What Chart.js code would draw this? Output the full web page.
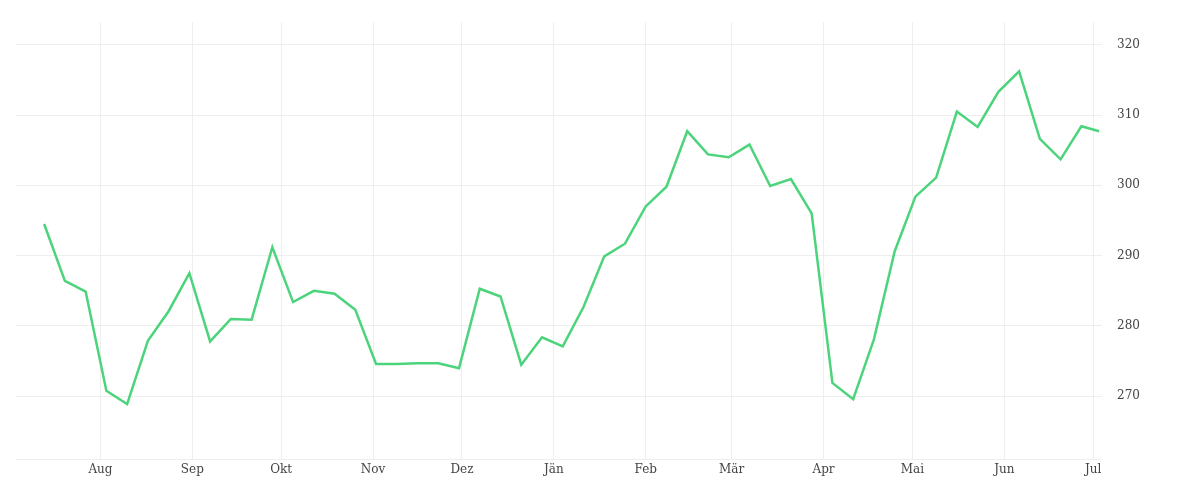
<!DOCTYPE html>
<html>
<head>
<meta charset="utf-8">
<script src="https://cdn.jsdelivr.net/npm/chart.js@4"></script>
<style>
  html, body { margin: 0; padding: 0; background: #fff; }
  #wrap { width: 1200px; height: 500px; }
</style>
</head>
<body>
<div id="wrap"><canvas id="chart"></canvas></div>
<script>
// days counted from 1 Jul (day 0); weekly points plus one final day
const days = [12,19,26,33,40,47,54,61,68,75,82,89,96,103,110,117,124,131,138,145,152,159,166,173,180,187,194,201,208,215,222,229,236,243,250,257,264,271,278,285,292,299,306,313,320,327,334,341,348,355,362,368];
const values = [294.5,286.4,284.9,270.8,268.9,277.9,282.1,287.5,277.8,281.0,280.9,291.2,283.4,285.0,284.6,282.3,274.6,274.6,274.7,274.7,274.0,285.3,284.2,274.5,278.4,277.1,282.7,289.9,291.7,297.0,299.8,307.7,304.4,304.0,305.8,299.9,300.9,296.0,271.9,269.6,278.1,290.6,298.4,301.1,310.5,308.3,313.3,316.2,306.6,303.7,308.4,307.7];
const monthDays = [31,62,92,123,153,184,215,244,275,305,336,366];
const monthLabels = ['Aug','Sep','Okt','Nov','Dez','Jän','Feb','Mär','Apr','Mai','Jun','Jul'];
const yTicks = [270,280,290,300,310,320];

const points = days.map((d, i) => ({ x: d, y: values[i] }));

new Chart(document.getElementById('chart'), {
  type: 'line',
  data: {
    datasets: [{
      data: points,
      borderColor: '#4cd47c',
      borderWidth: 2.5,
      pointRadius: 0,
      tension: 0,
      fill: false
    }]
  },
  options: {
    responsive: true,
    maintainAspectRatio: false,
    animation: false,
    layout: { padding: { left: 16, top: 7, right: 45, bottom: 20 } },
    plugins: { legend: { display: false }, tooltip: { enabled: false } },
    scales: {
      x: {
        type: 'linear',
        min: 2.5,
        max: 369,
        afterBuildTicks: axis => { axis.ticks = monthDays.map(v => ({ value: v })); },
        ticks: {
          autoSkip: false,
          maxRotation: 0,
          color: '#444',
          font: { family: 'DejaVu Serif', size: 12 },
          callback: v => monthLabels[monthDays.indexOf(v)]
        },
        grid: { color: '#eeeeee', drawTicks: false },
        border: { display: false }
      },
      y: {
        position: 'right',
        min: 261,
        max: 323.2,
        afterBuildTicks: axis => { axis.ticks = [261].concat(yTicks).map(v => ({ value: v })); },
        ticks: {
          color: '#444',
          padding: 15,
          font: { family: 'DejaVu Serif', size: 12 },
          callback: v => yTicks.includes(v) ? v : ''
        },
        grid: { color: '#eeeeee', drawTicks: false },
        border: { display: false }
      }
    }
  }
});
</script>
</body>
</html>
